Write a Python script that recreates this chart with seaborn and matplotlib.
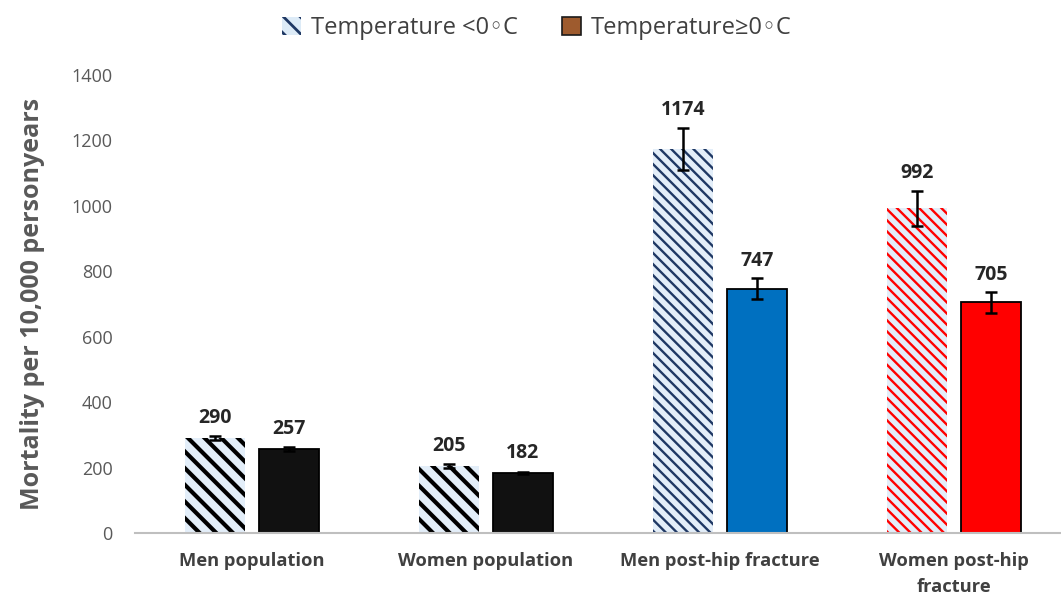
import seaborn as sns
import matplotlib.pyplot as plt
import pandas as pd
from matplotlib.patches import Patch

# data
groups = ["Men population", "Women population", "Men post-hip fracture", "Women post-hip\nfracture"]
temps = ["Temperature <0\u25e6C", "Temperature\u22650\u25e6C"]
cold_values = [290, 205, 1174, 992]
warm_values = [257, 182, 747, 705]
cold_err = [5, 5, 65, 54]
warm_err = [5, 3, 31, 31]

# styling per group
hatch_colors = ["#000000", "#000000", "#1F3864", "#FF0000"]
hatches = ["\\\\", "\\\\", "\\\\\\", "\\\\\\"]
hatch_widths = [3.0, 3.0, 1.7, 1.7]
solid_colors = ["#111111", "#111111", "#0070C0", "#FF0000"]

sns.set_style("white")
plt.rcParams["font.family"] = ["Open Sans", "DejaVu Sans"]
plt.rcParams["hatch.linewidth"] = 2.0

df = pd.DataFrame({
    "group": groups * 2,
    "temp": [temps[0]] * 4 + [temps[1]] * 4,
    "value": cold_values + warm_values,
})

fig = plt.figure(figsize=(10.61, 5.96), dpi=100)
ax = fig.add_axes([135 / 1061, 1 - 533 / 596, 936 / 1061, 458 / 596])

sns.barplot(data=df, x="group", y="value", hue="temp", order=groups, hue_order=temps,
            width=0.632, gap=0.18, errorbar=None, legend=False, ax=ax)

centers = {}
for p in ax.patches:
    xc = p.get_x() + p.get_width() / 2
    gi = int(round(xc))
    cold = xc < gi
    centers[(gi, cold)] = xc
    if cold:
        p.set_facecolor("#E3EEF9")
        p.set_hatch(hatches[gi])
        if hasattr(p, "set_hatchcolor"):
            p.set_edgecolor("#BDD7EE")
            p.set_linewidth(1.0)
            p.set_hatchcolor(hatch_colors[gi])
        else:
            p.set_edgecolor(hatch_colors[gi])
            p.set_linewidth(0)
        if hasattr(p, "set_hatch_linewidth"):
            p.set_hatch_linewidth(hatch_widths[gi])
    else:
        p.set_facecolor(solid_colors[gi])
        p.set_edgecolor("#000000")
        p.set_linewidth(1.3)

xs, ys, es = [], [], []
for gi in range(len(groups)):
    for cold, vals, errs in [(True, cold_values, cold_err), (False, warm_values, warm_err)]:
        xs.append(centers[(gi, cold)])
        ys.append(vals[gi])
        es.append(errs[gi])

ax.errorbar(xs, ys, yerr=es, fmt="none", ecolor="black", elinewidth=1.8,
            capsize=4.5, capthick=1.8, zorder=5)

for x, y, e in zip(xs, ys, es):
    ty = max(y + 46, y + e + 38)
    ax.text(x, ty, f"{y}", ha="center", va="baseline", fontsize=14,
            fontweight="bold", color="#262626")

ax.set_ylim(0, 1400)
ax.set_xlim(-0.5, 3.5)
ax.set_yticks(range(0, 1401, 200))
ax.tick_params(axis="y", length=0, pad=16, labelsize=13, labelcolor="#595959")
ax.tick_params(axis="x", length=0, pad=14, labelsize=13.2, labelcolor="#404040")
for lab in ax.get_xticklabels():
    lab.set_fontweight("bold")
    lab.set_multialignment("center")
    lab.set_linespacing(1.55)
ax.set_xlabel("")
ax.set_ylabel("Mortality per 10,000 personyears", fontsize=18, fontweight="bold",
              color="#595959", labelpad=19)

for s in ["top", "right", "left"]:
    ax.spines[s].set_visible(False)
ax.spines["bottom"].set_color("#BFBFBF")
ax.spines["bottom"].set_linewidth(1.5)

handles = [
    Patch(facecolor="#DDEBF7", edgecolor="#1F3864", hatch="\\\\", linewidth=0),
    Patch(facecolor="#9E5B2E", edgecolor="#1a1a1a", linewidth=1.2),
]
fig.legend(handles, temps, loc="center", bbox_to_anchor=(537 / 1061, 1 - 28 / 596),
           ncol=2, frameon=False, fontsize=17, handlelength=0.8, handleheight=0.8,
           handletextpad=0.4, columnspacing=1.9, labelcolor="#404040")

fig.savefig("out.png", dpi=100)
